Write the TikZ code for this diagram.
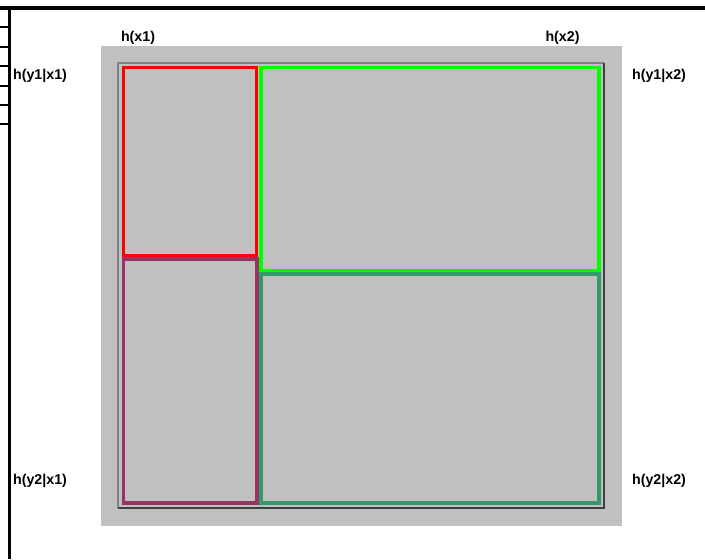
\documentclass[tikz,border=0pt]{standalone}
\usepackage{fontspec}
\setmainfont{Liberation Sans}
\usepackage{xcolor}
\definecolor{cPanel}{RGB}{192,192,192}
\definecolor{cEdge}{RGB}{128,128,128}
\definecolor{cShade}{RGB}{64,64,64}
\definecolor{cRed}{RGB}{255,0,0}
\definecolor{cLime}{RGB}{0,255,0}
\definecolor{cPlum}{RGB}{153,51,102}
\definecolor{cSea}{RGB}{51,153,102}
\tikzset{
	region/.style={line width=2.1pt},
	% label helper
	lbl/.style={font=\bfseries\fontsize{8.1}{9.7}\selectfont, inner sep=0pt},
}

\begin{document}
\begin{tikzpicture}[x=0.02cm, y=-0.02cm,
					rule/.style={line width=1.8pt, black},
					tick/.style={line width=0.9pt, black}]
	\useasboundingbox (0,0) rectangle (705,559);
	% page frame
	\draw[rule] (0,8) -- (705,8);
	\draw[rule] (9.8,7) -- (9.8,559);
	\foreach \y in {27,47,66,86,105,124}
		\draw[tick] (0,\y) -- (9.8,\y);
	% panel
	\fill[cPanel] (101,46) rectangle (622,526);
	\draw[cEdge, line width=0.9pt] (118,508) -- (118,63) -- (604,63);
	\draw[cShade, line width=0.9pt] (118,508) -- (604,508) -- (604,63);
	% regions
	\draw[region, cRed]  (123.4,67.5) rectangle (256.4,255.6);
	\draw[region, cPlum] (123.4,259.3) rectangle (256.8,503);
	\draw[region, cLime] (260.7,67.5) rectangle (599.3,271.2);
	\draw[region, cSea]  (260.7,274) rectangle (598.8,503);
	% labels
	\node[lbl] (hx1)   at (138,37.5)  {h(x1)};
	\node[lbl] (hx2)   at (562.5,37.5) {h(x2)};
	\node[lbl] (hy1x1) at (40,75.5)   {h(y1|x1)};
	\node[lbl] (hy1x2) at (659,75.5)  {h(y1|x2)};
	\node[lbl] (hy2x1) at (40,480.5)  {h(y2|x1)};
	\node[lbl] (hy2x2) at (659,481)   {h(y2|x2)};
\end{tikzpicture}
\end{document}
